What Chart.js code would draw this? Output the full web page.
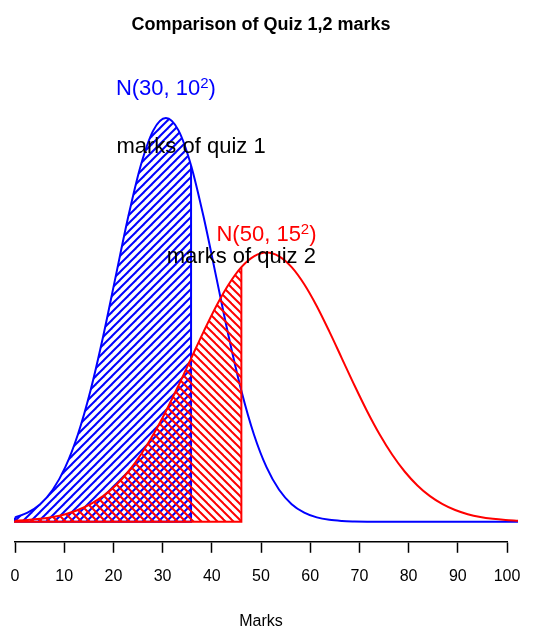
<!DOCTYPE html>
<html>
<head>
<meta charset="utf-8">
<script src="https://cdn.jsdelivr.net/npm/chart.js@4.4.1/dist/chart.umd.min.js"></script>
<style>
  html, body { margin: 0; padding: 0; background: #fff; }
  #wrap { width: 534px; height: 628px; }
</style>
</head>
<body>
<div id="wrap"><canvas id="chart"></canvas></div>
<script>
// marks (x) and the two density curves
const marks = [0, 2.5, 5, 7.5, 10, 12.5, 15, 17.5, 20, 22.5, 25, 27.5, 30, 32.5, 35, 37.5, 40, 42.5, 45, 47.5,
  50, 52.5, 55, 57.5, 60, 62.5, 65, 67.5, 70, 72.5, 75, 77.5, 80, 82.5, 85, 87.5, 90, 92.5, 95, 97.5, 100];
const quiz1Density = [0.00044, 0.00091, 0.00175, 0.00317, 0.00540, 0.00863, 0.01295, 0.01826, 0.02420, 0.03011,
  0.03521, 0.03867, 0.03989, 0.03867, 0.03521, 0.03011, 0.02420, 0.01826, 0.01295, 0.00863,
  0.00540, 0.00317, 0.00175, 0.00091, 0.00044, 0.00020, 0.00009, 0.00004, 0.00001, 0,
  0, 0, 0, 0, 0, 0, 0, 0, 0, 0, 0];
const quiz2Density = [0.00010, 0.00018, 0.00030, 0.00048, 0.00076, 0.00117, 0.00175, 0.00254, 0.00360, 0.00495,
  0.00663, 0.00863, 0.01093, 0.01347, 0.01613, 0.01879, 0.02130, 0.02347, 0.02516, 0.02623,
  0.02660, 0.02623, 0.02516, 0.02347, 0.02130, 0.01879, 0.01613, 0.01347, 0.01093, 0.00863,
  0.00663, 0.00495, 0.00360, 0.00254, 0.00175, 0.00117, 0.00076, 0.00048, 0.00030, 0.00018, 0.00010];
const quiz1Cut = 35;
const quiz2Cut = 45;
const xTicks = [0, 10, 20, 30, 40, 50, 60, 70, 80, 90, 100];

const BLUE = '#0000ff';
const RED = '#ff0000';
const FONT = '"Liberation Sans", Arial, Helvetica, sans-serif';

// text annotations, placed in the curves' data coordinates
const notes = [
  { x: 30, y: 0.04275, base: 'N(30, 10', sup: '2', tail: ')', color: BLUE },
  { x: 35, y: 0.0370, base: 'marks of quiz 1', color: '#000' },
  { x: 50, y: 0.02834, base: 'N(50, 15', sup: '2', tail: ')', color: RED },
  { x: 45, y: 0.02617, base: 'marks of quiz 2', color: '#000' },
];

function toPoints(ys) {
  return marks.map((x, i) => ({ x: x, y: ys[i] }));
}
function upTo(ys, cut) {
  return toPoints(ys).filter(p => p.x <= cut);
}
function outline(ys, cut) {
  const i = marks.indexOf(cut);
  return [{ x: 0, y: ys[0] }, { x: 0, y: 0 }, { x: cut, y: 0 }, { x: cut, y: ys[i] }];
}

function hatch(color, dir) {
  const s = 8;
  const c = document.createElement('canvas');
  c.width = s; c.height = s;
  const g = c.getContext('2d');
  g.strokeStyle = color;
  g.lineWidth = 2;
  for (const k of [-s, 0, s]) {
    g.beginPath();
    if (dir > 0) { g.moveTo(k - 1, s + 1); g.lineTo(k + s + 1, -1); }
    else { g.moveTo(k - 1, -1); g.lineTo(k + s + 1, s + 1); }
    g.stroke();
  }
  return g.createPattern(c, 'repeat');
}

const notePlugin = {
  id: 'notes',
  afterDatasetsDraw(chart) {
    const { ctx, scales } = chart;
    ctx.save();
    ctx.textBaseline = 'middle';
    ctx.textAlign = 'left';
    for (const n of notes) {
      const px = scales.xc.getPixelForValue(n.x);
      const py = scales.y.getPixelForValue(n.y);
      ctx.font = '22px ' + FONT;
      const w1 = ctx.measureText(n.base).width;
      let w2 = 0, w3 = 0;
      if (n.sup) {
        w3 = ctx.measureText(n.tail).width;
        ctx.font = '15px ' + FONT;
        w2 = ctx.measureText(n.sup).width;
      }
      let x0 = px - (w1 + w2 + w3) / 2;
      ctx.fillStyle = n.color;
      ctx.font = '22px ' + FONT;
      ctx.fillText(n.base, x0, py);
      if (n.sup) {
        ctx.font = '15px ' + FONT;
        ctx.fillText(n.sup, x0 + w1, py - 5);
        ctx.font = '22px ' + FONT;
        ctx.fillText(n.tail, x0 + w1 + w2, py);
      }
    }
    ctx.restore();
  }
};

const common = { xAxisID: 'xc', pointRadius: 0, clip: false };
const curve = { ...common, borderWidth: 2, fill: false, cubicInterpolationMode: 'monotone' };

new Chart(document.getElementById('chart'), {
  type: 'line',
  data: {
    datasets: [
      { ...curve, data: upTo(quiz1Density, quiz1Cut), borderWidth: 0, fill: 'origin',
        backgroundColor: hatch(BLUE, 1), order: 6 },
      { ...common, data: outline(quiz1Density, quiz1Cut), borderColor: BLUE, borderWidth: 2,
        tension: 0, fill: false, order: 5 },
      { ...curve, data: toPoints(quiz1Density), borderColor: BLUE, order: 4 },
      { ...curve, data: upTo(quiz2Density, quiz2Cut), borderWidth: 0, fill: 'origin',
        backgroundColor: hatch(RED, -1), order: 3 },
      { ...common, data: outline(quiz2Density, quiz2Cut), borderColor: RED, borderWidth: 2,
        tension: 0, fill: false, order: 2 },
      { ...curve, data: toPoints(quiz2Density), borderColor: RED, order: 1 },
    ]
  },
  options: {
    responsive: true,
    maintainAspectRatio: false,
    animation: false,
    events: [],
    layout: { padding: { left: 15, right: 27, top: 0, bottom: 0 } },
    plugins: {
      legend: { display: false },
      tooltip: { enabled: false },
      title: {
        display: true,
        text: 'Comparison of Quiz 1,2 marks',
        color: '#000',
        font: { family: FONT, size: 18, weight: 'bold' },
        padding: { top: 14, bottom: 14 }
      }
    },
    scales: {
      x: {
        type: 'linear',
        min: 0,
        max: 100,
        afterBuildTicks: (scale) => { scale.ticks = xTicks.map(v => ({ value: v })); },
        afterFit: (scale) => { scale.paddingLeft = 0; scale.paddingRight = 0; },
        grid: { drawOnChartArea: false, drawTicks: true, tickLength: 11, tickColor: '#000', tickWidth: 1.5 },
        border: { display: true, color: '#000', width: 1.5 },
        ticks: { color: '#000', padding: 14, maxRotation: 0, autoSkip: false,
          font: { family: FONT, size: 16 } },
        title: { display: true, text: 'Marks', color: '#000',
          font: { family: FONT, size: 16, lineHeight: 0.75 }, padding: { top: 16, bottom: 0 } }
      },
      xc: {
        type: 'linear',
        display: false,
        min: 0,
        max: 97.81
      },
      y: {
        display: false,
        min: -0.00197,
        max: 0.04665
      }
    }
  },
  plugins: [notePlugin]
});
</script>
</body>
</html>
